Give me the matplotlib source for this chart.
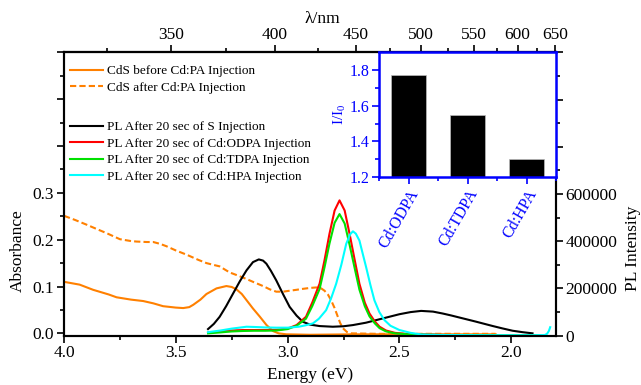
import numpy as np
import matplotlib
matplotlib.use("Agg")
import matplotlib.pyplot as plt
from matplotlib.ticker import FixedLocator, FuncFormatter, MultipleLocator

plt.rcParams['font.family'] = ['Liberation Serif', 'DejaVu Serif']
plt.rcParams['mathtext.fontset'] = 'custom'
plt.rcParams['mathtext.rm'] = 'Liberation Serif'

# ---------------- data ----------------
abs_before_E = [4.00, 3.93, 3.87, 3.80, 3.765, 3.70, 3.646, 3.60, 3.557, 3.50, 3.467, 3.44, 3.422,
                3.39, 3.363, 3.318, 3.274, 3.25, 3.229, 3.205, 3.184, 3.155, 3.125, 3.095, 3.066,
                3.04, 3.006, 2.90, 2.70, 2.50, 2.30, 2.07]
abs_before_A = [0.110, 0.104, 0.093, 0.083, 0.077, 0.072, 0.069, 0.064, 0.058, 0.055, 0.054, 0.056,
                0.061, 0.072, 0.084, 0.096, 0.101, 0.099, 0.094, 0.084, 0.071, 0.053, 0.036, 0.018,
                0.005, 0.0, -0.002, -0.003, -0.002, -0.002, -0.002, -0.002]

abs_after_E = [4.00, 3.95, 3.899, 3.85, 3.81, 3.75, 3.70, 3.676, 3.63, 3.601, 3.57, 3.542, 3.50,
               3.452, 3.40, 3.363, 3.33, 3.304, 3.28, 3.259, 3.22, 3.184, 3.15, 3.110, 3.08, 3.051,
               3.02, 2.991, 2.96, 2.932, 2.90, 2.872, 2.85, 2.835, 2.82, 2.806, 2.79, 2.776, 2.765,
               2.753, 2.735, 2.716, 2.60, 2.40, 2.20, 2.07]
abs_after_A = [0.251, 0.242, 0.232, 0.222, 0.214, 0.201, 0.197, 0.196, 0.195, 0.195, 0.191, 0.186,
               0.177, 0.168, 0.157, 0.150, 0.146, 0.143, 0.136, 0.130, 0.123, 0.116, 0.109, 0.101,
               0.094, 0.089, 0.089, 0.091, 0.093, 0.095, 0.097, 0.098, 0.096, 0.091, 0.083, 0.071,
               0.054, 0.036, 0.022, 0.011, 0.003, 0.0, -0.001, -0.001, -0.001, -0.001]

pl_S_E = [3.356, 3.33, 3.304, 3.275, 3.244, 3.214, 3.184, 3.155, 3.129, 3.11, 3.095, 3.075, 3.051,
          3.02, 2.991, 2.96, 2.932, 2.90, 2.857, 2.798, 2.75, 2.708, 2.65, 2.604, 2.55, 2.50, 2.45,
          2.403, 2.35, 2.307, 2.27, 2.232, 2.16, 2.083, 2.04, 1.994, 1.95, 1.905]
pl_S_I = [28000, 50000, 80000, 125000, 178500, 230000, 276600, 311600, 323000, 318000, 304800,
          275000, 234500, 175000, 122000, 85000, 59000, 47000, 40800, 38000, 40000, 45000, 55000,
          66000, 79000, 91000, 100000, 105000, 102000, 94000, 86000, 77000, 60000, 41000, 31000,
          21000, 15000, 10000]

pl_E = [3.356, 3.30, 3.25, 3.20, 3.15, 3.10, 3.05, 3.00, 2.96, 2.918, 2.89, 2.857, 2.835, 2.813,
        2.79, 2.768, 2.745, 2.723, 2.70, 2.679, 2.655, 2.634, 2.61, 2.589, 2.56, 2.52, 2.45, 2.30,
        2.10, 1.90, 1.85]
pl_ODPA_I = [12600, 18000, 22000, 24000, 24000, 24000, 25000, 30000, 45000, 80000, 140000, 220600,
             320000, 431000, 530000, 573000, 530000, 431000, 320000, 220000, 140000, 94000, 60000,
             38000, 22000, 12000, 6000, 3000, 2000, 1500, 1500]
pl_TDPA_I = [10000, 14000, 18000, 20000, 21000, 21000, 22000, 28000, 42000, 72000, 125000, 198000,
             290000, 390000, 478000, 515000, 475000, 385000, 285000, 195000, 125000, 82000, 52000,
             32000, 18000, 10000, 5000, 2500, 2000, 1500, 1500]

pl_HPA_E = [3.356, 3.30, 3.25, 3.20, 3.184, 3.15, 3.10, 3.05, 3.00, 2.95, 2.92, 2.887, 2.86, 2.828,
            2.805, 2.783, 2.76, 2.738, 2.72, 2.708, 2.695, 2.679, 2.665, 2.649, 2.63, 2.612, 2.59,
            2.567, 2.54, 2.50, 2.45, 2.40, 2.30, 2.10, 1.90, 1.85, 1.84, 1.832, 1.826]
pl_HPA_I = [15000, 22000, 30000, 36000, 38000, 37000, 35000, 34000, 34000, 38000, 44000, 52000,
            72000, 108000, 160000, 220000, 300000, 389000, 430000, 442000, 432000, 403000, 350000,
            290000, 215000, 150000, 100000, 66000, 42000, 24000, 12000, 5000, 3000, 2000, 2000,
            3000, 8000, 20000, 36000]

inset_labels = ['Cd:ODPA', 'Cd:TDPA', 'Cd:HPA']
inset_values = [1.77, 1.55, 1.30]

top_ticks_nm = [350, 400, 450, 500, 550, 600, 650]
top_minor_nm = [325, 375, 425, 475, 525, 575, 625]

# ---------------- figure ----------------
fig = plt.figure(figsize=(6.41, 3.85), dpi=100)
L, R, B, T = 64/641, 556/641, 1-335.7/385, 1-52.3/385
ax = fig.add_axes([L, B, R-L, T-B])
ax2 = ax.twinx()

orange = '#FF8000'
l1, = ax.plot(abs_before_E, abs_before_A, color=orange, lw=1.5, label='CdS before Cd:PA Injection')
l2, = ax.plot(abs_after_E, abs_after_A, color=orange, lw=1.5, ls=(0, (3, 1.5)), label='CdS after Cd:PA Injection')

p1, = ax2.plot(pl_S_E, pl_S_I, color='black', lw=1.5, label='PL After 20 sec of S Injection')
p2, = ax2.plot(pl_E, pl_ODPA_I, color='#FF0000', lw=1.5, label='PL After 20 sec of Cd:ODPA Injection')
p3, = ax2.plot(pl_E, pl_TDPA_I, color='#00E000', lw=1.5, label='PL After 20 sec of Cd:TDPA Injection')
p4, = ax2.plot(pl_HPA_E, pl_HPA_I, color='#00FFFF', lw=1.5, label='PL After 20 sec of Cd:HPA Injection')

ax.set_xlim(4.0, 1.8)
ax.set_ylim(-0.005, 0.6)
ax2.set_ylim(0, 1.2e6)

tfs = 12.5
lfs = 12.5
ax.xaxis.set_major_locator(MultipleLocator(0.5))
ax.xaxis.set_minor_locator(MultipleLocator(0.25))
ax.xaxis.set_major_formatter(FuncFormatter(lambda v, p: f'{v:.1f}'))
ax.yaxis.set_major_locator(FixedLocator([0, 0.1, 0.2, 0.3, 0.4, 0.5, 0.6]))
ax.yaxis.set_minor_locator(FixedLocator([0.05, 0.15, 0.25, 0.35, 0.45, 0.55]))
ax.yaxis.set_major_formatter(FuncFormatter(lambda v, p: f'{v:.1f}' if v <= 0.31 else ''))
ax2.yaxis.set_major_locator(FixedLocator(np.arange(0, 1.2e6 + 1, 2e5)))
ax2.yaxis.set_minor_locator(FixedLocator(np.arange(1e5, 1.2e6, 2e5)))
ax2.yaxis.set_major_formatter(FuncFormatter(lambda v, p: f'{int(v)}' if v <= 6.1e5 else ''))

for a in (ax, ax2):
    a.tick_params(which='major', direction='out', length=5, width=1.2, labelsize=tfs, pad=2)
    a.tick_params(which='minor', direction='out', length=3, width=1.2)
    for s in a.spines.values():
        s.set_linewidth(1.5)
ax.tick_params(axis='x', top=False)

ax.set_xlabel('Energy (eV)', fontsize=lfs)
ax.xaxis.set_label_coords(0.5, -0.139)
ax.xaxis.label.set_va('center')
ax.set_ylabel('Absorbance', fontsize=lfs)
ax.yaxis.set_label_coords(-0.093, 0.30)
ax.yaxis.label.set_va('center')
ax2.set_ylabel('PL Intensity', fontsize=lfs)
ax2.yaxis.set_label_coords(1.1565, 0.31)
ax2.yaxis.label.set_va('center')

# top wavelength axis
K, C = 1302.8, 0.2
def e2l(E):
    E = np.asarray(E, dtype=float)
    with np.errstate(divide='ignore', invalid='ignore'):
        return K / (E + C)
def l2e(lam):
    lam = np.asarray(lam, dtype=float)
    with np.errstate(divide='ignore', invalid='ignore'):
        return K / lam - C
sec = ax.secondary_xaxis('top', functions=(e2l, l2e))
sec.set_xticks(top_ticks_nm)
sec.set_xticks(top_minor_nm, minor=True)
sec.xaxis.set_major_formatter(FuncFormatter(lambda v, p: f'{int(round(v))}'))
sec.tick_params(which='major', direction='out', length=5, width=1.2, labelsize=tfs, pad=2)
sec.tick_params(which='minor', direction='out', length=3, width=1.2)
sec.spines['top'].set_linewidth(1.5)
sec.set_xlabel('λ/nm', fontsize=lfs)
sec.xaxis.set_label_coords(0.526, 1.116, transform=ax.transAxes)
sec.xaxis.label.set_va('center')

# legends
lkw = dict(frameon=False, fontsize=9.5, handlelength=2.5, handletextpad=0.3, borderpad=0,
           borderaxespad=0, labelspacing=0.33, bbox_transform=fig.transFigure, loc='upper left')
leg1 = ax2.legend(handles=[l1, l2], bbox_to_anchor=(70/641, 1-65/385), **lkw)
ax2.add_artist(leg1)
ax2.legend(handles=[p1, p2, p3, p4], bbox_to_anchor=(70/641, 1-121/385), **lkw)

# inset
blue = '#0000FF'
IL, IB = 379/641, 1-177/385
ins = fig.add_axes([IL, IB, R-IL, T-IB])
ins.set_zorder(5)
pos = np.arange(1, len(inset_values) + 1)
ins.bar(pos, inset_values, width=0.6, color='black', edgecolor='#BBBBBB', linewidth=0.5)
ins.set_xlim(0.5, 3.5)
ins.set_ylim(1.2, 1.9)
ins.set_xticks(pos)
ins.set_xticks([0.5, 1.5, 2.5, 3.5], minor=True)
ins.set_xticklabels(inset_labels, rotation=60, ha='right', va='top', rotation_mode='anchor',
                    color=blue, fontsize=8.5)
ins.yaxis.set_major_locator(FixedLocator([1.2, 1.4, 1.6, 1.8]))
ins.yaxis.set_minor_locator(FixedLocator([1.3, 1.5, 1.7]))
ins.yaxis.set_major_formatter(FuncFormatter(lambda v, p: f'{v:.1f}'))
ins.tick_params(which='major', direction='out', length=5, width=1.2, color=blue, labelcolor=blue,
                labelsize=11.5, pad=2)
ins.tick_params(which='minor', direction='out', length=3, width=1.2, color=blue)
for s in ins.spines.values():
    s.set_color(blue)
    s.set_linewidth(1.8)
ins.set_ylabel(r'I/I$_\mathregular{0}$', color=blue, fontsize=11)
ins.yaxis.set_label_coords(-0.22, 0.5)
ins.yaxis.label.set_va('center')

fig.savefig('out.png', dpi=100)
